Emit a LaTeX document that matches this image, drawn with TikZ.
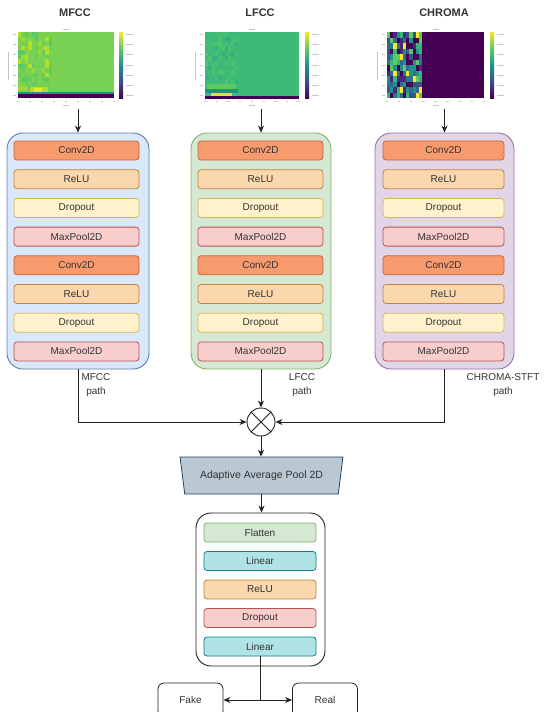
\documentclass[tikz,border=0pt]{standalone}
\usepackage{fontspec}
\setmainfont{Liberation Sans}
\usetikzlibrary{arrows.meta,shapes.geometric,calc}
\definecolor{txt}{HTML}{333333}
\definecolor{lineC}{HTML}{222222}
\definecolor{convF}{HTML}{F79B6E}\definecolor{convD}{HTML}{C4653E}
\definecolor{reluF}{HTML}{FAD7AC}\definecolor{reluD}{HTML}{C08440}
\definecolor{dropF}{HTML}{FFF2CC}\definecolor{dropD}{HTML}{D6B656}
\definecolor{poolF}{HTML}{F8CECC}\definecolor{poolD}{HTML}{B85450}
\definecolor{flatF}{HTML}{D5E8D4}\definecolor{flatD}{HTML}{82B366}
\definecolor{linF}{HTML}{B0E3E6}\definecolor{linD}{HTML}{0E8088}
\definecolor{blueF}{HTML}{DAE8FC}\definecolor{blueD}{HTML}{5F7BA8}
\definecolor{greenF}{HTML}{D5E8D4}\definecolor{greenD}{HTML}{82B366}
\definecolor{purpF}{HTML}{E1D5E7}\definecolor{purpD}{HTML}{9673A6}
\definecolor{trapF}{HTML}{BAC8D3}\definecolor{trapD}{HTML}{23445D}
% viridis
\definecolor{v0}{HTML}{440154}\definecolor{v1}{HTML}{3B528B}
\definecolor{v2}{HTML}{21918C}\definecolor{v3}{HTML}{5EC962}
\definecolor{v4}{HTML}{FDE725}
\pgfdeclareverticalshading{viridis}{100bp}{color(0bp)=(v0); color(25bp)=(v0); color(37.5bp)=(v1); color(50bp)=(v2); color(62.5bp)=(v3); color(75bp)=(v4); color(100bp)=(v4)}
% MFCC palette
\definecolor{mf0}{HTML}{78D152}\definecolor{mf1}{HTML}{78D152}
\definecolor{mf2}{HTML}{78D152}\definecolor{mf3}{HTML}{7ED34F}
\definecolor{mf4}{HTML}{96D83E}\definecolor{mf5}{HTML}{6ACD5B}
\definecolor{mf6}{HTML}{5EC962}\definecolor{mf7}{HTML}{B5DE2B}
% LFCC palette
\definecolor{lf0}{HTML}{3DBA78}\definecolor{lf1}{HTML}{3DBA78}
\definecolor{lf2}{HTML}{3DBA78}\definecolor{lf3}{HTML}{3DBA78}
\definecolor{lf4}{HTML}{44BE71}\definecolor{lf5}{HTML}{4AC16D}
\definecolor{lf6}{HTML}{36B07E}\definecolor{lf7}{HTML}{4EC36B}
% CHROMA palette
\definecolor{ch0}{HTML}{440154}\definecolor{ch1}{HTML}{3B528B}
\definecolor{ch2}{HTML}{21918C}\definecolor{ch3}{HTML}{5EC962}
\definecolor{ch4}{HTML}{FDE725}\definecolor{ch5}{HTML}{31688E}
\definecolor{ch6}{HTML}{440154}\definecolor{ch7}{HTML}{2C728E}
\definecolor{ch8}{HTML}{35B779}\definecolor{ch9}{HTML}{482878}
\newcommand\specdecor[3]{%
  \begin{scope}[draw=gray!45, line width=0.7pt]
  \foreach \k in {0,...,6} \draw ({#1-5},{34+\k*10.3}) -- ({#1-2},{34+\k*10.3});
  \draw ({#1-10},52) -- ({#1-10},80);
  \foreach \k in {0,...,8} \draw ({#1+\k*(#2-#1)/8-1.2},101.5) -- ({#1+\k*(#2-#1)/8+1.2},101.5);
  \draw ({(#1+#2)/2-3},105.5) -- ({(#1+#2)/2+3},105.5);
  \draw ({(#1+#2)/2-3},29.5) -- ({(#1+#2)/2+3},29.5);
  \foreach \k in {0,...,6} \draw ({#3+7},{34+\k*10.3}) -- ({#3+14},{34+\k*10.3});
  \end{scope}
  \shade[shading=viridis] (#3,32) rectangle ++(4,66);}
\tikzset{
  lay/.style={draw, rounded corners=3pt, minimum height=19pt, inner sep=0pt,
    font=\fontsize{10}{12}\selectfont, text=txt, line width=0.8pt},
  grp/.style={draw, rounded corners=16pt, line width=0.9pt, minimum width=#1, minimum height=236pt, inner sep=0pt},
  arr/.style={-{Stealth[length=7pt,width=6pt]}, line width=0.9pt, draw=lineC},
  ln/.style={line width=0.9pt, draw=lineC},
  ttl/.style={font=\bfseries\fontsize{11}{13}\selectfont, text=txt},
  plabel/.style={font=\fontsize{10}{14}\selectfont, text=txt, align=center},
  outbox/.style={draw=lineC, fill=white, rounded corners=6pt, line width=0.8pt, minimum width=65pt, minimum height=34pt, inner sep=0pt},
}
\begin{document}
\begin{tikzpicture}[x=1pt,y=-1pt]
\useasboundingbox (0,0) rectangle (546,712);
\fill[white] (0,0) rectangle (546,712);

% titles
\node[ttl] (tm) at (75,13) {MFCC};
\node[ttl] (tl) at (260,13) {LFCC};
\node[ttl] (tc) at (444,13) {CHROMA};

% ---- MFCC spectrogram
\fill[mf0] (18,32) rectangle (114,98);
\pgfmathsetseed{11}
\foreach \i in {0,...,9}{\foreach \j in {0,...,12}{
  \pgfmathtruncatemacro\k{random(0,7)}
  \fill[fill=mf\k] ({18+\i*3.4},{32+\j*4.5}) rectangle ++(3.4,4.5);}}
\fill[mf7] (30,87) rectangle (48,91.5);
\fill[v4!80!mf7] (34,88) rectangle (42,91.5);
\fill[v2] (18,91.5) rectangle (114,94);
\fill[v0] (18,94) rectangle (114,98);
\specdecor{18}{114}{119}

% ---- LFCC spectrogram
\fill[lf0] (205,32) rectangle (299,98);
\pgfmathsetseed{5}
\foreach \i in {0,...,9}{\foreach \j in {0,...,12}{
  \pgfmathtruncatemacro\k{random(0,7)}
  \fill[fill=lf\k] ({205+\i*3.3},{32+\j*4.8}) rectangle ++(3.3,4.8);}}
\fill[v3] (207,84) rectangle (236,89);
\fill[v2] (205,89) rectangle (238,93);
\fill[v4!85!v3] (211,93) rectangle (232,96);
\fill[v0] (205,96) rectangle (299,98.5);
\specdecor{205}{299}{305}

% ---- CHROMA spectrogram
\fill[v0] (387,32) rectangle (484,98);
\pgfmathsetseed{3}
\foreach \i in {0,...,10}{\foreach \j in {0,...,11}{
  \pgfmathtruncatemacro\k{random(0,9)}
  \fill[fill=ch\k] ({387+\i*3.2},{32+\j*5.5}) rectangle ++(3.2,5.5);}}
\specdecor{387}{484}{490}

\coordinate (mimg) at (78,109);
\coordinate (limg) at (261,109);
\coordinate (cimg) at (444.5,109);

% ---- group boxes
\node[grp=142pt, fill=blueF, draw=blueD] (mbox) at (78,251) {};
\node[grp=140pt, fill=greenF, draw=greenD] (lbox) at (261,251) {};
\node[grp=139pt, fill=purpF, draw=purpD] (cbox) at (444.5,251) {};

\foreach \n/\cx/\w in {m/76.5/125, l/260.5/125, c/443.5/121}{
  \foreach \t/\f/\d [count=\i from 0] in {Conv2D/convF/convD, ReLU/reluF/reluD, Dropout/dropF/dropD, MaxPool2D/poolF/poolD, Conv2D/convF/convD, ReLU/reluF/reluD, Dropout/dropF/dropD, MaxPool2D/poolF/poolD}
    \node[lay, fill=\f, draw=\d, minimum width=\w pt] (\n\i) at (\cx,{150.5+\i*28.7}) {\t};
}

% ---- path labels
\node[plabel] (pm) at (96,385) {MFCC\\path};
\node[plabel] (pl) at (302,385) {LFCC\\path};
\node[plabel] (pc) at (503,385) {CHROMA-STFT\\path};

% ---- merge
\node[circle, draw=lineC, fill=white, line width=0.9pt, minimum size=28pt, inner sep=0pt] (mix) at (261,422) {};
\draw[ln] (mix.north west) -- (mix.south east);
\draw[ln] (mix.north east) -- (mix.south west);

% ---- trapezium
\node[trapezium, draw=trapD, fill=trapF, line width=0.8pt, trapezium angle=69, shape border rotate=180,
  trapezium stretches=true, minimum width=163pt, minimum height=37pt, inner sep=0pt,
  font=\fontsize{10.5}{12}\selectfont, text=txt] (trap) at (261.5,475.5) {Adaptive Average Pool 2D};

% ---- head
\node[draw=lineC, fill=white, rounded corners=15pt, line width=0.9pt, minimum width=129pt, minimum height=153pt, inner sep=0pt] (head) at (260.5,589.5) {};
\foreach \t/\f/\d [count=\i from 0] in {Flatten/flatF/flatD, Linear/linF/linD, ReLU/reluF/reluD, Dropout/poolF/poolD, Linear/linF/linD}
  \node[lay, fill=\f, draw=\d, minimum width=112pt] (h\i) at (260,{532.5+\i*28.5}) {\t};

% ---- outputs
\node[outbox, font=\fontsize{10}{12}\selectfont, text=txt] (fake) at (190.5,700) {Fake};
\node[outbox, font=\fontsize{10}{12}\selectfont, text=txt] (real) at (325,700) {Real};
\coordinate (j) at (260,700);

% ---- connectors
\draw[arr] (mimg) -- (mimg |- mbox.north);
\draw[arr] (limg) -- (limg |- lbox.north);
\draw[arr] (cimg) -- (cimg |- cbox.north);
\draw[arr] (mbox.south) -- (mbox.south |- mix.west) -- (mix.west);
\draw[arr] (lbox.south) -- (mix.north);
\draw[arr] (cbox.south) -- (cbox.south |- mix.east) -- (mix.east);
\draw[arr] (mix.south) -- (mix.south |- trap.north);
\draw[arr] (trap.south) -- (trap.south |- head.north);
\draw[ln] (h4.south) -- (j);
\draw[arr] (j) -- (fake.east);
\draw[arr] (j) -- (real.west);
\end{tikzpicture}
\end{document}
